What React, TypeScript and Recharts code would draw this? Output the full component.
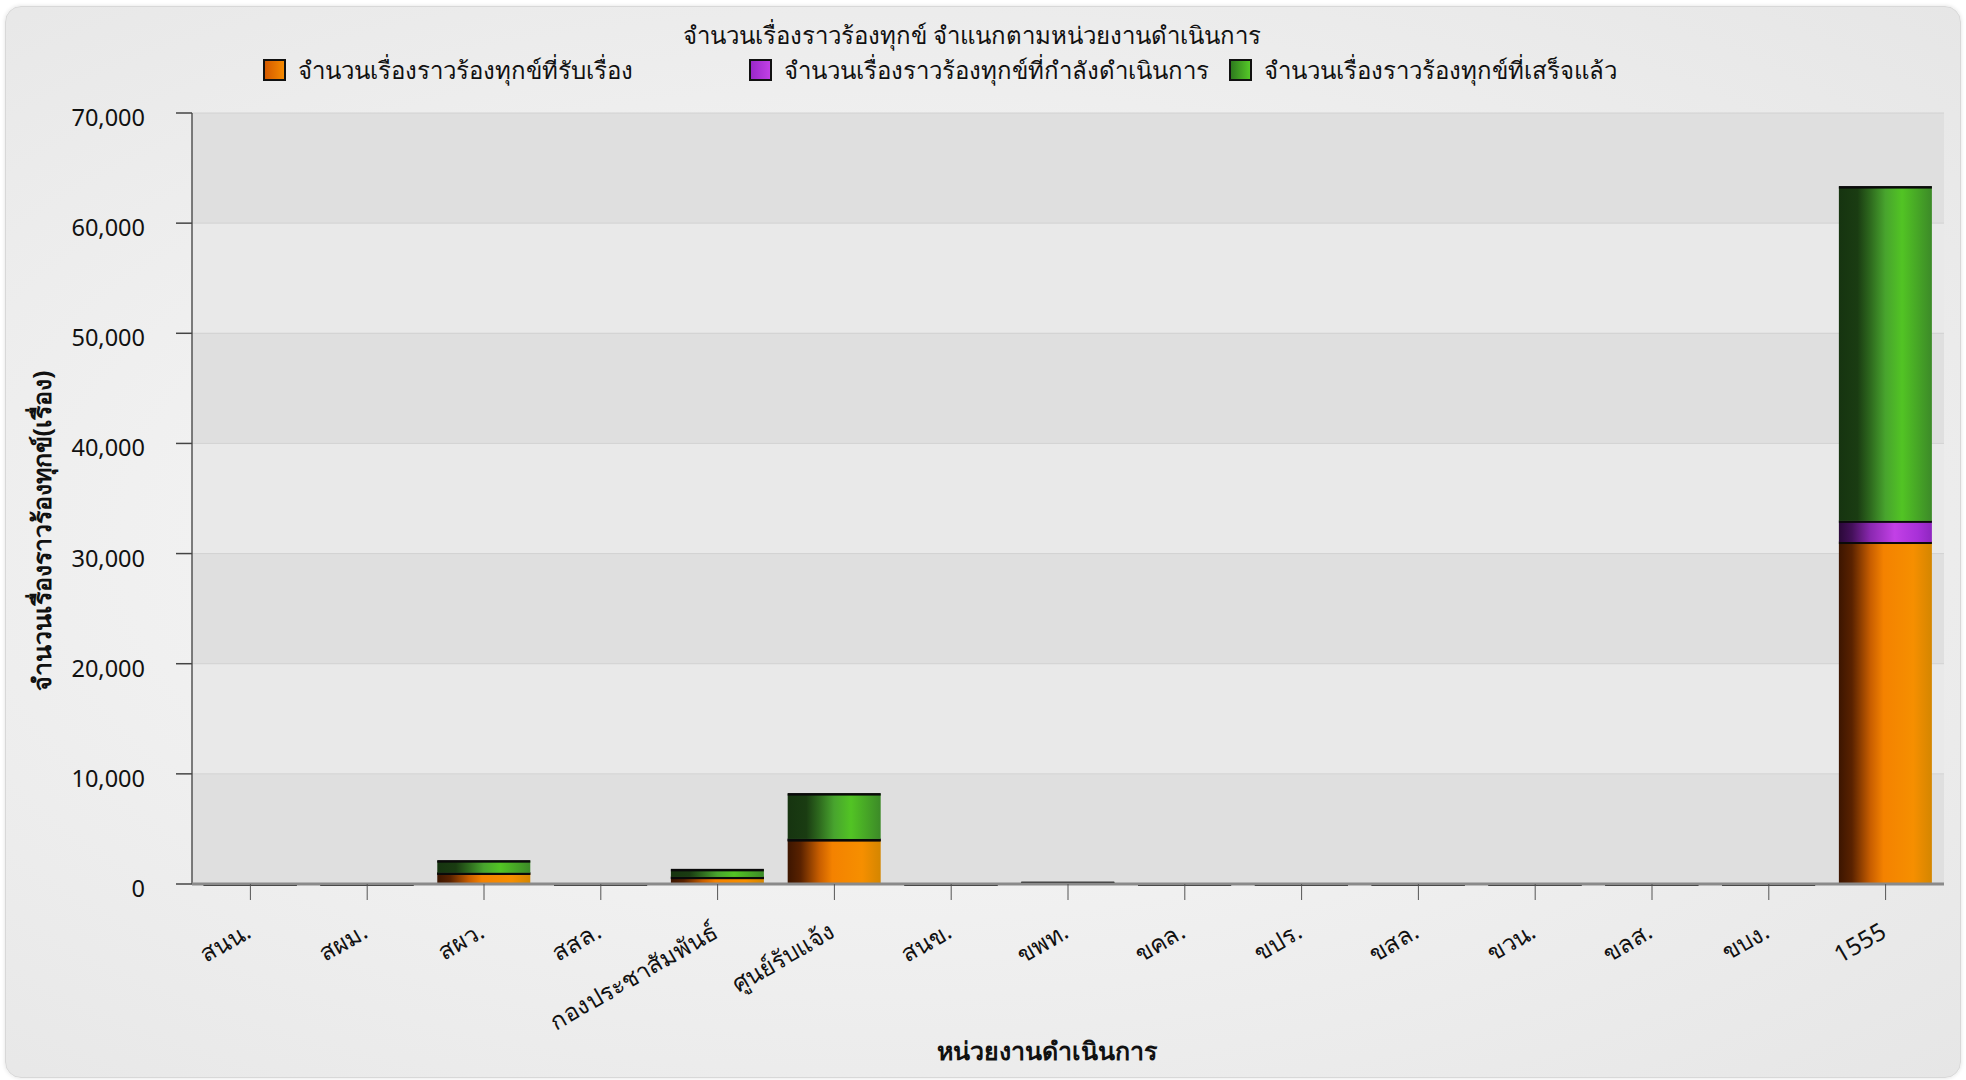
import { BarChart, Bar, XAxis, YAxis, CartesianGrid } from "recharts";

const units = [
  "สนน.",
  "สผม.",
  "สผว.",
  "สสล.",
  "กองประชาสัมพันธ์",
  "ศูนย์รับแจ้ง",
  "สนข.",
  "ขพท.",
  "ขคล.",
  "ขปร.",
  "ขสล.",
  "ขวน.",
  "ขลส.",
  "ขบง.",
  "1555",
];
const received = [15, 12, 1000, 10, 620, 4030, 12, 90, 14, 10, 12, 10, 12, 10, 31050];
const inProgress = [0, 0, 20, 0, 20, 60, 0, 10, 0, 0, 0, 0, 0, 0, 1920];
const completed = [10, 8, 1100, 8, 690, 4120, 8, 70, 8, 10, 8, 10, 8, 10, 30350];
const yTicks = [0, 10000, 20000, 30000, 40000, 50000, 60000, 70000];

const seriesNames = [
  "จำนวนเรื่องราวร้องทุกข์ที่รับเรื่อง",
  "จำนวนเรื่องราวร้องทุกข์ที่กำลังดำเนินการ",
  "จำนวนเรื่องราวร้องทุกข์ที่เสร็จแล้ว",
];

const data = units.map((name, i) => ({
  name,
  received: received[i],
  inProgress: inProgress[i],
  completed: completed[i],
}));

const FONT = "'Noto Sans', 'Open Sans', sans-serif";

// gradient stops per series, left -> right
const gradients = {
  gOrange: [
    ["0%", "#3c1500"],
    ["14%", "#5a2200"],
    ["34%", "#c85e00"],
    ["48%", "#f48200"],
    ["80%", "#f68f00"],
    ["100%", "#d48600"],
  ],
  gPurple: [
    ["0%", "#2a0838"],
    ["14%", "#44105a"],
    ["34%", "#8a28b0"],
    ["60%", "#c240e6"],
    ["85%", "#a830d8"],
    ["100%", "#8e26c0"],
  ],
  gGreen: [
    ["0%", "#163410"],
    ["20%", "#1a3c12"],
    ["34%", "#2e6a1e"],
    ["50%", "#48a42e"],
    ["68%", "#52c424"],
    ["100%", "#3c8a28"],
  ],
};

const Segment = (props: any) => {
  const { x, y, width, height, fill } = props;
  if (width == null || isNaN(y)) return null;
  return (
    <g>
      <rect x={x} y={y} width={width} height={Math.max(height, 0)} fill={fill} />
      <rect x={x} y={y - 0.5} width={width} height={2.5} fill="#0a0a0a" />
    </g>
  );
};

const XTick = (props: any) => {
  const { x, y, payload } = props;
  return (
    <g transform={`translate(${x - 13},${y + 16})`}>
      <text
        x={6}
        y={0}
        dy={20}
        textAnchor="end"
        transform="rotate(-30)"
        fontSize={24}
        fontFamily={FONT}
        fill="#111"
      >
        {payload.value}
      </text>
    </g>
  );
};

const YTick = (props: any) => {
  const { x, y, payload } = props;
  return (
    <text
      x={x}
      y={y}
      dy={13}
      textAnchor="end"
      fontSize={23.5}
      fontFamily={FONT}
      fill="#111"
    >
      {Number(payload.value).toLocaleString("en-US")}
    </text>
  );
};

const legendItems = [
  { left: 263, grad: "linear-gradient(90deg,#d45a00,#f58a00)", text: seriesNames[0] },
  { left: 749, grad: "linear-gradient(90deg,#9a28c8,#c240e6)", text: seriesNames[1] },
  { left: 1229, grad: "linear-gradient(90deg,#2e7a1e,#55c828)", text: seriesNames[2] },
];

export default function App() {
  return (
    <div
      style={{
        position: "absolute",
        left: 0,
        top: 0,
        width: 1966,
        height: 1080,
        background: "#ffffff",
        fontFamily: FONT,
        overflow: "hidden",
      }}
    >
      <div
        style={{
          position: "absolute",
          left: 5,
          top: 6,
          width: 1954,
          height: 1070,
          borderRadius: 16,
          border: "1px solid #d8d8d8",
          boxShadow: "0 0 4px rgba(0,0,0,0.12)",
          background:
            "radial-gradient(ellipse at 45% 50%, #f7f7f7 0%, #f1f1f1 45%, #e6e6e6 100%)",
        }}
      />
      <div
        style={{
          position: "absolute",
          left: 972,
          top: 35,
          transform: "translate(-50%,-50%)",
          fontSize: 24,
          color: "#111",
          whiteSpace: "nowrap",
        }}
      >
        จำนวนเรื่องราวร้องทุกข์ จำแนกตามหน่วยงานดำเนินการ
      </div>
      {legendItems.map((it) => (
        <div
          key={it.text}
          style={{
            position: "absolute",
            left: it.left,
            top: 57,
            height: 26,
            display: "flex",
            alignItems: "center",
            whiteSpace: "nowrap",
          }}
        >
          <span
            style={{
              display: "inline-block",
              width: 19,
              height: 18,
              border: "2px solid #111",
              background: it.grad,
              marginRight: 12,
            }}
          />
          <span style={{ fontSize: 24, color: "#111" }}>{it.text}</span>
        </div>
      ))}
      <div
        style={{
          position: "absolute",
          left: 42,
          top: 531,
          transform: "translate(-50%,-50%) rotate(-90deg)",
          fontSize: 25,
          fontWeight: "bold",
          color: "#111",
          whiteSpace: "nowrap",
        }}
      >
        จำนวนเรื่องราวร้องทุกข์(เรื่อง)
      </div>
      <div
        style={{
          position: "absolute",
          left: 1047,
          top: 1051,
          transform: "translate(-50%,-50%)",
          fontSize: 25,
          fontWeight: "bold",
          color: "#111",
          whiteSpace: "nowrap",
        }}
      >
        หน่วยงานดำเนินการ
      </div>
      <div style={{ position: "absolute", left: 0, top: 0 }}>
        <BarChart
          width={1966}
          height={1080}
          data={data}
          margin={{ top: 113, right: 22, left: 0, bottom: 0 }}
          barCategoryGap="10%"
        >
          <defs>
            {Object.entries(gradients).map(([id, stops]) => (
              <linearGradient key={id} id={id} x1="0" y1="0" x2="1" y2="0">
                {stops.map(([o, c]) => (
                  <stop key={o} offset={o} stopColor={c} />
                ))}
              </linearGradient>
            ))}
          </defs>
          <CartesianGrid
            vertical={false}
            stroke="#d2d2d2"
            horizontalFill={["#dfdfdf", "#e9e9e9"]}
          />
          <YAxis
            width={192}
            domain={[0, 70000]}
            ticks={yTicks}
            tick={<YTick />}
            tickSize={16}
            tickMargin={31}
            tickLine={{ stroke: "#444", strokeWidth: 1.5 }}
            axisLine={{ stroke: "#555", strokeWidth: 1.5 }}
          />
          <XAxis
            dataKey="name"
            height={196}
            interval={0}
            tick={<XTick />}
            tickSize={16}
            tickMargin={6}
            tickLine={{ stroke: "#555", strokeWidth: 1 }}
            axisLine={{ stroke: "#8a8a8a", strokeWidth: 3 }}
          />
          <Bar
            dataKey="received"
            name={seriesNames[0]}
            stackId="a"
            fill="url(#gOrange)"
            shape={<Segment />}
            isAnimationActive={false}
          />
          <Bar
            dataKey="inProgress"
            name={seriesNames[1]}
            stackId="a"
            fill="url(#gPurple)"
            shape={<Segment />}
            isAnimationActive={false}
          />
          <Bar
            dataKey="completed"
            name={seriesNames[2]}
            stackId="a"
            fill="url(#gGreen)"
            shape={<Segment />}
            isAnimationActive={false}
          />
        </BarChart>
      </div>
    </div>
  );
}
